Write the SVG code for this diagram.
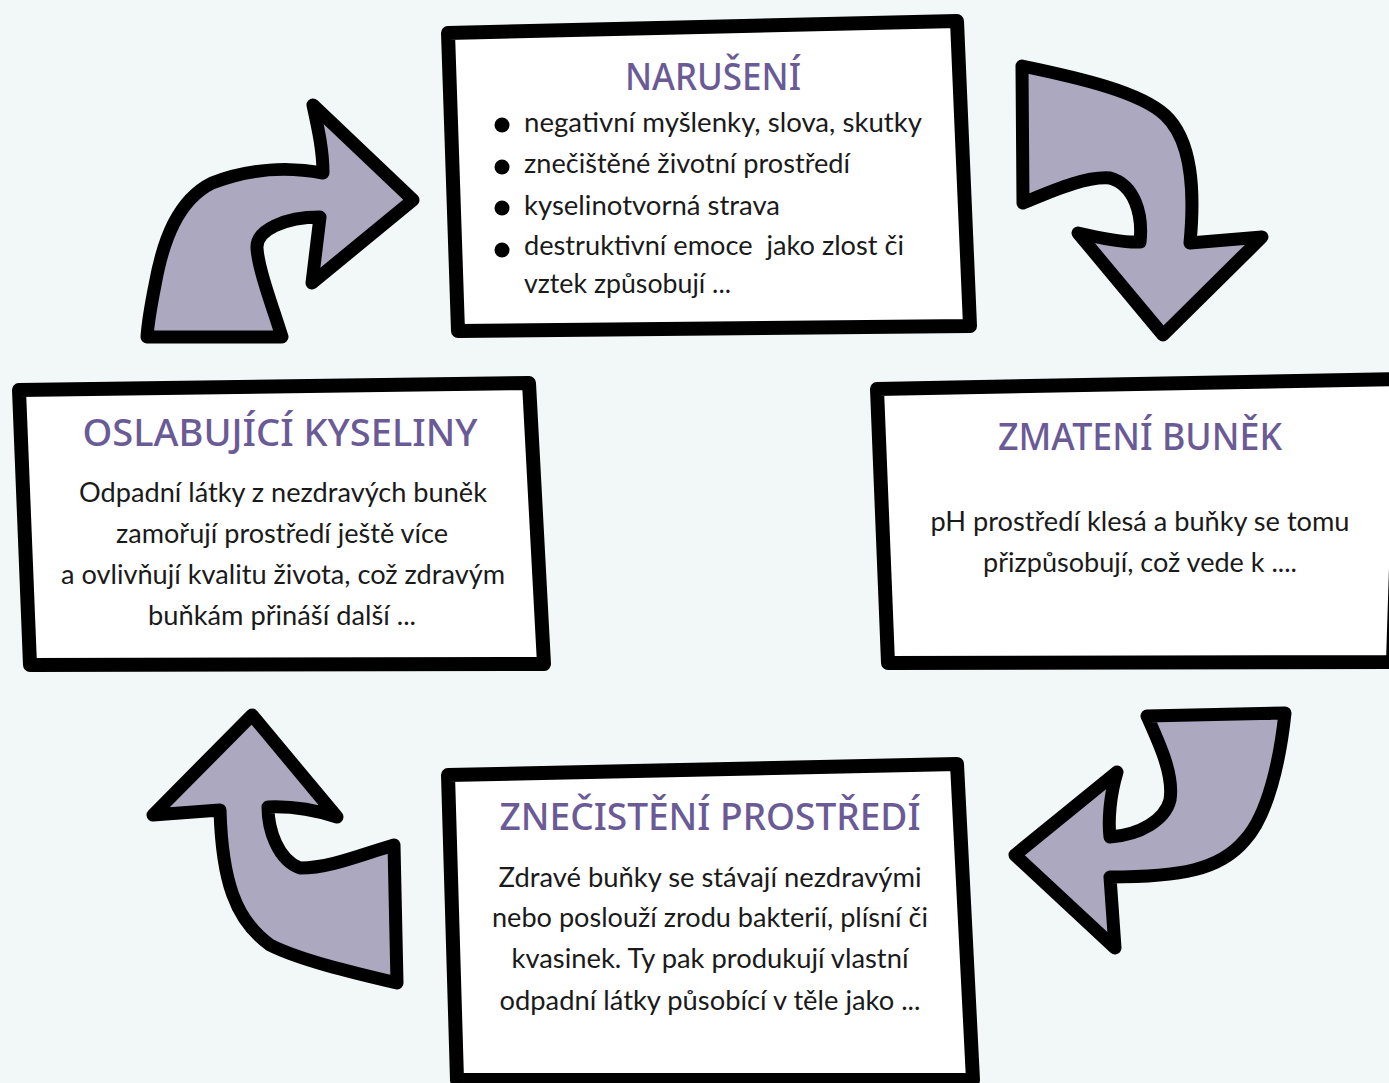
<svg xmlns="http://www.w3.org/2000/svg" width="1389" height="1083" viewBox="0 0 1389 1083">
  <style>
    .box { fill: #ffffff; stroke: #000000; stroke-width: 14; stroke-linejoin: round; }
    .arrow { fill: #aca8bf; stroke: #000000; stroke-width: 13; stroke-linejoin: round; }
    .title { font-family: "Noto Sans", "DejaVu Sans", sans-serif; font-size: 38px; font-weight: 500; fill: #6a5a96; text-anchor: middle; }
    .body { font-family: Lato, "Open Sans", "Liberation Sans", sans-serif; font-size: 27px; fill: #1a1a1a; }
    .center { text-anchor: middle; }
    .bullet { fill: #000000; }
  </style>

  <rect width="1389" height="1083" fill="#f2f8f8"/>

  <!-- curved arrows linking the four stages -->
  <g id="connectors">
    <path class="arrow" d="M147,337 L282,337 C272,305 258,268 257,248 C256,230 285,217 320,217 L312,283 L413,200 L313,105 C318,128 323,150 323,173 C290,167 250,168 212,183 C178,200 163,240 155,285 C151,305 148,322 147,337 Z"/>
    <path class="arrow" d="M1022,66 C1080,78 1140,92 1165,115 C1192,140 1195,190 1190,243 L1262,237 L1163,335 L1078,233 C1100,238 1125,243 1140,242 C1143,215 1135,185 1110,178 C1085,176 1050,192 1023,203 Z"/>
    <path class="arrow" d="M1147,716 L1285,713 C1280,760 1268,815 1245,840 C1220,870 1180,877 1110,877 L1115,948 L1015,855 L1117,772 C1110,795 1108,820 1110,837 C1140,835 1165,820 1170,800 C1174,775 1160,745 1147,716 Z"/>
    <path class="arrow" d="M252,715 L337,817 C315,810 290,806 268,807 C268,830 278,860 300,868 C330,868 360,855 394,845 L397,983 C350,972 300,960 270,945 C235,920 222,880 220,810 L153,815 Z"/>
  </g>

  <!-- top stage -->
  <g id="node-naruseni">
    <polygon class="box" points="448,33 957,21 970,326 458,331"/>
    <text class="title" x="713" y="90" textLength="176" lengthAdjust="spacingAndGlyphs">NARUŠENÍ</text>
    <circle class="bullet" cx="502" cy="125" r="7.5"/>
    <circle class="bullet" cx="502" cy="167" r="7.5"/>
    <circle class="bullet" cx="502" cy="208" r="7.5"/>
    <circle class="bullet" cx="502" cy="250" r="7.5"/>
    <text class="body" x="524" y="132" textLength="398" lengthAdjust="spacingAndGlyphs">negativní myšlenky, slova, skutky</text>
    <text class="body" x="524" y="173" textLength="326" lengthAdjust="spacingAndGlyphs">znečištěné životní prostředí</text>
    <text class="body" x="524" y="215" textLength="256" lengthAdjust="spacingAndGlyphs">kyselinotvorná strava</text>
    <text class="body" x="524" y="255" textLength="380" lengthAdjust="spacingAndGlyphs" xml:space="preserve">destruktivní emoce  jako zlost či</text>
    <text class="body" x="524" y="293" textLength="207" lengthAdjust="spacingAndGlyphs">vztek způsobují ...</text>
  </g>

  <!-- right stage -->
  <g id="node-zmateni">
    <polygon class="box" points="877,389 1402,379 1393,662 888,663"/>
    <text class="title" x="1140" y="450" textLength="284" lengthAdjust="spacingAndGlyphs">ZMATENÍ BUNĚK</text>
    <text class="body center" x="1140" y="531" textLength="419" lengthAdjust="spacingAndGlyphs">pH prostředí klesá a buňky se tomu</text>
    <text class="body center" x="1140" y="572" textLength="314" lengthAdjust="spacingAndGlyphs">přizpůsobují, což vede k ....</text>
  </g>

  <!-- left stage -->
  <g id="node-oslabujici">
    <polygon class="box" points="19,390 529,383 544,664 30,665"/>
    <text class="title" x="280" y="446" textLength="395" lengthAdjust="spacingAndGlyphs">OSLABUJÍCÍ KYSELINY</text>
    <text class="body center" x="283" y="502" textLength="408" lengthAdjust="spacingAndGlyphs">Odpadní látky z nezdravých buněk</text>
    <text class="body center" x="282" y="543" textLength="332" lengthAdjust="spacingAndGlyphs">zamořují prostředí ještě více</text>
    <text class="body center" x="283" y="584" textLength="444" lengthAdjust="spacingAndGlyphs">a ovlivňují kvalitu života, což zdravým</text>
    <text class="body center" x="282" y="625" textLength="268" lengthAdjust="spacingAndGlyphs">buňkám přináší další ...</text>
  </g>

  <!-- bottom stage -->
  <g id="node-znecisteni">
    <polygon class="box" points="448,775 957,764 973,1080 457,1080"/>
    <text class="title" x="710" y="830" textLength="421" lengthAdjust="spacingAndGlyphs">ZNEČISTĚNÍ PROSTŘEDÍ</text>
    <text class="body center" x="710" y="887" textLength="423" lengthAdjust="spacingAndGlyphs">Zdravé buňky se stávají nezdravými</text>
    <text class="body center" x="710" y="927" textLength="436" lengthAdjust="spacingAndGlyphs">nebo poslouží zrodu bakterií, plísní či</text>
    <text class="body center" x="710" y="968" textLength="397" lengthAdjust="spacingAndGlyphs">kvasinek. Ty pak produkují vlastní</text>
    <text class="body center" x="710" y="1010" textLength="421" lengthAdjust="spacingAndGlyphs">odpadní látky působící v těle jako ...</text>
  </g>
</svg>
